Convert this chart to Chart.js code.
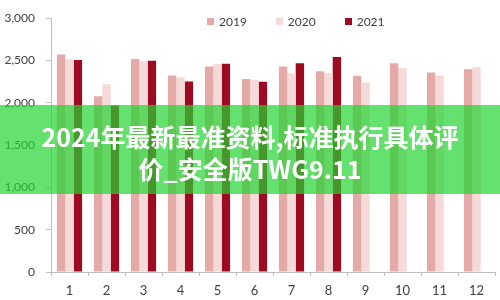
<!DOCTYPE html>
<html>
<head>
<meta charset="utf-8">
<script src="https://cdn.jsdelivr.net/npm/chart.js@4"></script>
<style>
  html, body { margin: 0; padding: 0; background: #fff; }
  #wrap { position: relative; width: 500px; height: 300px; overflow: hidden; }
  #legend { position: absolute; top: 14px; left: 207px; display: flex; font-family: Lato, "DejaVu Sans", sans-serif; font-size: 12px; color: #404040; }
  .item { display: flex; align-items: center; margin-right: 29px; }
  .box { width: 7px; height: 7px; margin-right: 5px; }
  #banner { position: absolute; left: 0; top: 105px; width: 500px; height: 89px; background: rgba(34,212,48,0.7);
    color: #fff; font-family: "Noto Sans CJK SC", sans-serif; font-weight: bold; font-size: 25px; line-height: 32px;
    text-align: center; box-sizing: border-box; padding-top: 15px; white-space: nowrap; }
</style>
</head>
<body>
<div id="wrap">
  <canvas id="c" width="500" height="300"></canvas>
  <div id="legend"></div>
  <div id="banner">2024年最新最准资料,标准执行具体评<br>价_安全版TWG9.11</div>
</div>
<script>
const categories = ['1','2','3','4','5','6','7','8','9','10','11','12'];
const seriesNames = ['2019','2020','2021'];
const values2019 = [2570, 2078, 2518, 2323, 2428, 2280, 2428, 2373, 2319, 2467, 2358, 2397];
const values2020 = [2515, 2218, 2490, 2303, 2460, 2273, 2350, 2350, 2241, 2412, 2323, 2424];
const values2021 = [2505, 1969, 2498, 2253, 2463, 2250, 2467, 2541, null, null, null, null];
const yTicks = [0, 500, 1000, 1500, 2000, 2500, 3000];
const colors = ['#e4aaa8', '#f6dad9', '#9e0a22'];

const legend = document.getElementById('legend');
seriesNames.forEach((n, i) => {
  const it = document.createElement('div'); it.className = 'item';
  const b = document.createElement('div'); b.className = 'box'; b.style.background = colors[i];
  const t = document.createElement('span'); t.textContent = n;
  it.appendChild(b); it.appendChild(t); legend.appendChild(it);
});

new Chart(document.getElementById('c'), {
  type: 'bar',
  data: {
    labels: categories,
    datasets: [
      { label: seriesNames[0], data: values2019, backgroundColor: colors[0] },
      { label: seriesNames[1], data: values2020, backgroundColor: colors[1] },
      { label: seriesNames[2], data: values2021, backgroundColor: colors[2] }
    ]
  },
  options: {
    responsive: false,
    animation: false,
    events: [],
    layout: { padding: { top: 6, left: 4, right: 5, bottom: 1 } },
    datasets: { bar: { categoryPercentage: 0.68, barPercentage: 1.0 } },
    plugins: { legend: { display: false }, tooltip: { enabled: false } },
    scales: {
      x: {
        afterFit: (s) => { s.height = 27; },
        grid: { drawOnChartArea: false, drawTicks: true, tickLength: 4, color: '#bfbfbf', offset: true },
        border: { display: true, color: '#bfbfbf' },
        ticks: { color: '#404040', font: { family: 'Lato', size: 13 }, padding: 7 }
      },
      y: {
        min: 0, max: 3000,
        afterFit: (s) => { s.width = 47; },
        afterBuildTicks: (axis) => { axis.ticks = yTicks.map(v => ({ value: v })); },
        grid: { drawOnChartArea: false, drawTicks: true, tickLength: 5, color: '#bfbfbf' },
        border: { display: true, color: '#bfbfbf' },
        ticks: { color: '#404040', font: { family: 'Lato', size: 12 }, padding: 11,
          callback: (v) => Number(v).toLocaleString('en-US') }
      }
    }
  }
});
</script>
</body>
</html>
